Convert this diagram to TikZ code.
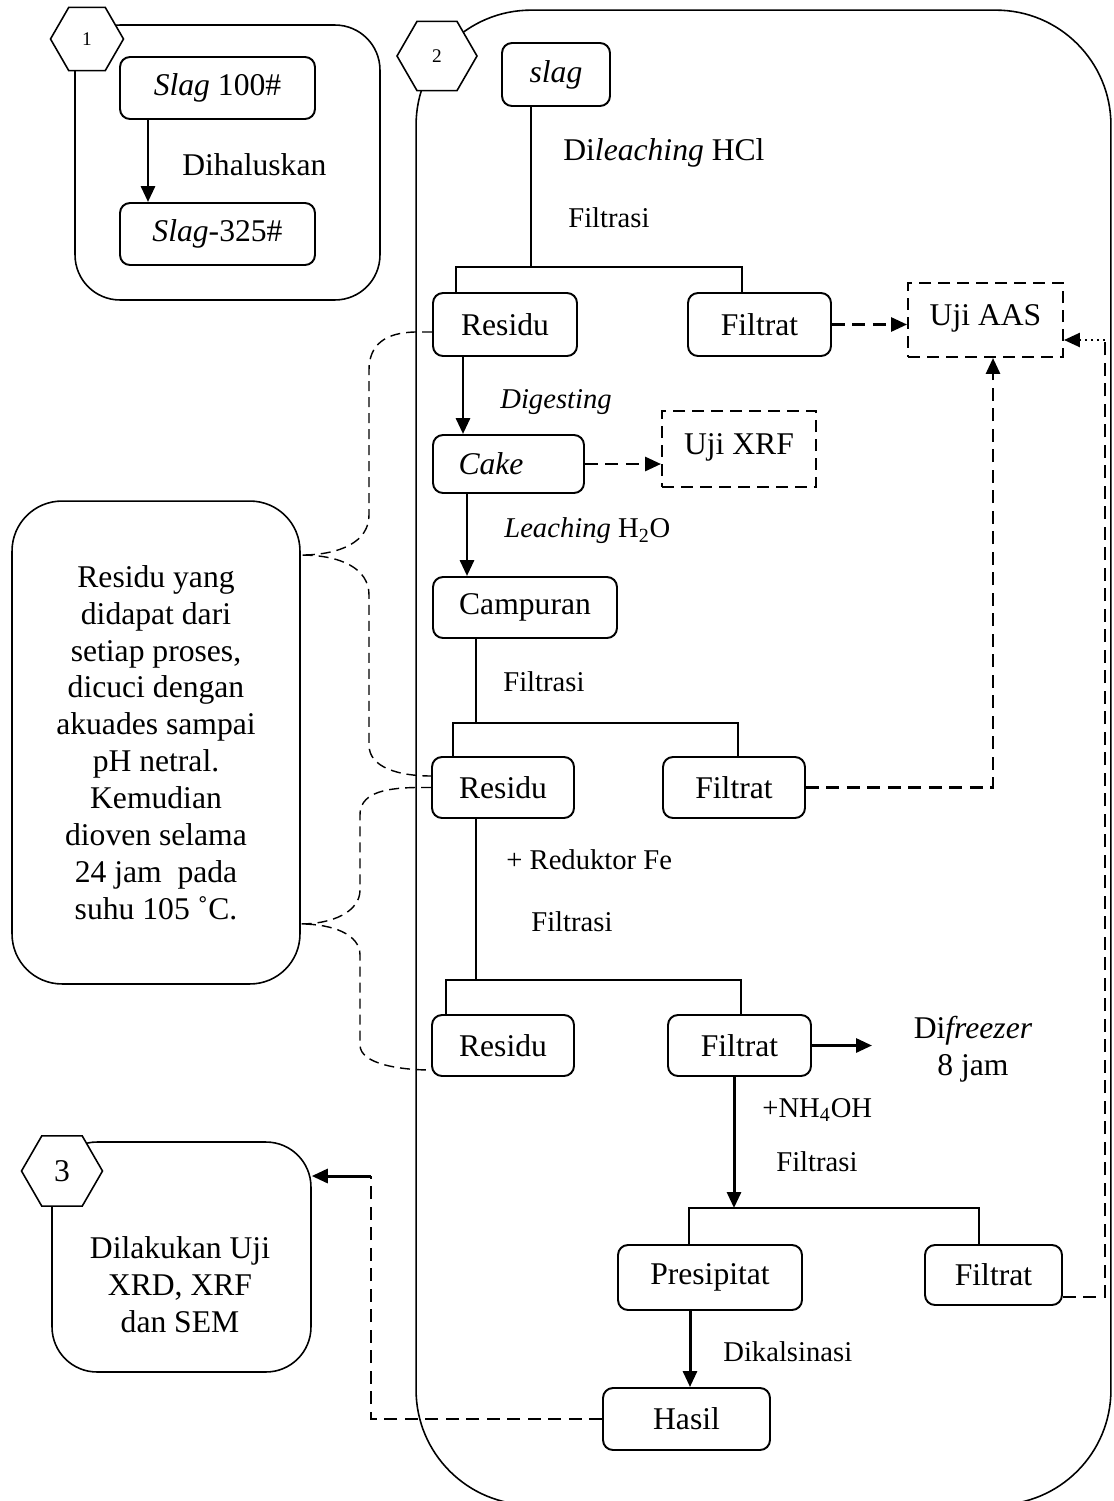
\documentclass[tikz,border=0pt]{standalone}
\usepackage{fontspec}
\setmainfont{Liberation Serif}
\usetikzlibrary{arrows.meta,shapes.geometric}

\begin{document}
\begin{tikzpicture}[x=0.02cm,y=-0.02cm,
		big/.style={font=\fontsize{18}{21}\selectfont},
		box/.style={draw,rounded corners=0.2cm,line width=1.1pt,inner sep=0pt,big},
		testbox/.style={draw,dash pattern=on 0.24cm off 0.14cm,line width=1.1pt,inner sep=0pt,big},
		panel/.style={draw,line width=0.9pt,inner sep=0pt},
		hexa/.style={draw,fill=white,regular polygon,regular polygon sides=6,inner sep=0pt,line width=0.9pt},
		lbl/.style={anchor=west,inner sep=0pt,font=\fontsize{16.3}{19}\selectfont},
		ln/.style={line width=1pt},
		arr/.style={line width=1.7pt,-{Triangle[length=0.32cm,width=0.28cm]}},
		dline/.style={line width=1.6pt,dash pattern=on 0.26cm off 0.15cm},
		darr/.style={dline,-{Triangle[length=0.32cm,width=0.28cm]}},
		brace/.style={line width=0.8pt,dash pattern=on 0.2cm off 0.12cm}]
		\useasboundingbox (0,0) rectangle (1113,1501);
		
		% panels
		\node[panel,rounded corners=0.9cm,minimum width=6.1cm,minimum height=5.5cm] (p1) at (227.5,162.5) {};
		\node[panel,rounded corners=2.3cm,minimum width=13.9cm,minimum height=29.9cm] (p2) at (763.5,757.5) {};
		\node[panel,rounded corners=1cm,minimum width=5.76cm,minimum height=9.66cm,align=center,big] (note) at (156,742.5) {Residu yang\\didapat dari\\setiap proses,\\dicuci dengan\\akuades sampai\\pH netral.\\Kemudian\\dioven selama\\24 jam~~pada\\suhu 105 ˚C.};
		\node[panel,rounded corners=0.9cm,minimum width=5.18cm,minimum height=4.6cm] (p3) at (181.5,1257) {};
		\node[align=center,big] (p3txt) at (180,1285) {Dilakukan Uji\\XRD, XRF\\dan SEM};
		\node[hexa,minimum size=1.46cm,font=\fontsize{11}{13}\selectfont] (h1) at (87,39) {1};
		\node[hexa,minimum size=1.6cm,font=\fontsize{11}{13}\selectfont] (h2) at (437,56) {2};
		\node[hexa,minimum size=1.62cm,big] (h3) at (62,1171) {3};
		
		% boxes
		\node[box,minimum width=3.9cm,minimum height=1.24cm] (s100) at (217.5,88) {\textit{Slag} 100\#};
		\node[box,minimum width=3.9cm,minimum height=1.24cm] (s325) at (217.5,234) {\textit{Slag}-325\#};
		\node[box,minimum width=2.16cm,minimum height=1.26cm] (slag) at (556,74.5) {\textit{slag}};
		\node[box,minimum width=2.88cm,minimum height=1.26cm] (res1) at (505,324.5) {Residu};
		\node[box,minimum width=2.86cm,minimum height=1.26cm] (fil1) at (759.5,324.5) {Filtrat};
		\node[testbox,minimum width=3.1cm,minimum height=1.48cm] (aas) at (985.5,320) {\raisebox{0.18cm}{Uji AAS}};
		\node[box,minimum width=3.02cm,minimum height=1.16cm] (cake) at (508.5,464) {\makebox[2cm][l]{\textit{Cake}}};
		\node[testbox,minimum width=3.08cm,minimum height=1.52cm] (xrf) at (739,449) {\raisebox{0.18cm}{Uji XRF}};
		\node[box,minimum width=3.68cm,minimum height=1.22cm] (camp) at (525,607.5) {Campuran};
		\node[box,minimum width=2.84cm,minimum height=1.22cm] (res2) at (503,787.5) {Residu};
		\node[box,minimum width=2.84cm,minimum height=1.22cm] (fil2) at (734,787.5) {Filtrat};
		\node[box,minimum width=2.84cm,minimum height=1.22cm] (res3) at (503,1045.5) {Residu};
		\node[box,minimum width=2.86cm,minimum height=1.22cm] (fil3) at (739.5,1045.5) {Filtrat};
		\node[box,minimum width=3.68cm,minimum height=1.3cm] (pres) at (710,1277.5) {Presipitat};
		\node[box,minimum width=2.74cm,minimum height=1.2cm] (fil4) at (993.5,1275) {Filtrat};
		\node[box,minimum width=3.34cm,minimum height=1.24cm] (hasil) at (686.5,1419) {Hasil};
		
		% labels
		\node[lbl,big] (dh) at (182,165) {Dihaluskan};
		\node[lbl,big] (lhcl) at (563,153) {Di\textit{leaching} HCl};
		\node[lbl] (f1) at (568,218) {Filtrasi};
		\node[lbl] (dig) at (500,402) {\textit{Digesting}};
		\node[lbl] (lh2o) at (504,531) {\textit{Leaching} H\textsubscript{2}O};
		\node[lbl] (f2) at (503,682) {Filtrasi};
		\node[lbl] (red) at (506,860) {+ Reduktor Fe};
		\node[lbl] (f3) at (531,922) {Filtrasi};
		\node[lbl] (nh) at (762,1110) {+NH\textsubscript{4}OH};
		\node[lbl] (f4) at (776,1162) {Filtrasi};
		\node[lbl] (kal) at (723,1352) {Dikalsinasi};
		\node[align=center,big] (frz) at (973,1049) {Di\textit{freezer}\\8 jam};
		
		% columns and junctions
		\foreach \n/\x in {kA/148,kB/531,kC/456,kD/742,kE/463,kF/467,kG/476,kH/453,kI/738,kJ/446,kK/741,kL/734,kM/689,kN/979,kO/690,kP/993}
			\coordinate (\n) at (\x,0);
		\coordinate (b1) at (531,267);
		\coordinate (b2) at (476,723);
		\coordinate (b3) at (476,980);
		\coordinate (b4) at (734,1208);
		\coordinate (fz) at (872,0);
		\coordinate (rt) at (1105,340);
		\coordinate (lt) at (371,1176);
		
		% connectors
		\draw[arr] (s100.south -| kA) -- (s325.north -| kA);
		\draw[ln] (slag.south -| kB) -- (b1);
		\draw[ln] (res1.north -| kC) |- (b1) -| (fil1.north -| kD);
		\draw[darr] (fil1.east) -- (fil1.east -| aas.west);
		\draw[arr] (res1.south -| kE) -- (cake.north -| kE);
		\draw[darr] (cake.east) -- (cake.east -| xrf.west);
		\draw[arr] (cake.south -| kF) -- (camp.north -| kF);
		\draw[ln] (camp.south -| kG) -- (b2);
		\draw[ln] (res2.north -| kH) |- (b2) -| (fil2.north -| kI);
		\draw[darr] (fil2.east) -| (aas.south -| kP);
		\draw[ln] (res2.south -| kG) -- (b3);
		\draw[ln] (res3.north -| kJ) |- (b3) -| (fil3.north -| kK);
		\draw[arr] (fil3.east) -- (fil3.east -| fz);
		\draw[arr] (fil3.south -| kL) -- (b4);
		\draw[ln] (pres.north -| kM) |- (b4) -| (fil4.north -| kN);
		\draw[arr] (pres.south -| kO) -- (hasil.north -| kO);
		\draw[dline] ([yshift=-0.44cm]fil4.east) -| (rt);
		\draw[line width=1.4pt,dotted,-{Triangle[length=0.32cm,width=0.28cm]}] (rt) -- (rt -| aas.east);
		\draw[dline] (hasil.west) -| (lt);
		\draw[arr] (lt) -- (lt -| p3.east);
		
		% braces to the note
		\draw[brace] ([yshift=-0.15cm]res1.west) -- ++(-15,0) .. controls (385,332) and (369,345) .. (369,370) -- (369,515)
			.. controls (369,542) and (340,555) .. ([yshift=3.75cm]note.east)
			.. controls (340,555) and (369,568) .. (369,595) -- (369,745)
			.. controls (369,768) and (400,776) .. ([yshift=0.23cm]res2.west);
		\draw[brace] (res2.west) -- ++(-15,0) .. controls (380,788) and (360,795) .. (360,815) -- (360,890)
			.. controls (360,912) and (332,924) .. ([yshift=-3.63cm]note.east)
			.. controls (332,924) and (360,934) .. (360,955) -- (360,1045)
			.. controls (360,1064) and (400,1070) .. ([yshift=-0.49cm]res3.west);
	\end{tikzpicture}
\end{document}
